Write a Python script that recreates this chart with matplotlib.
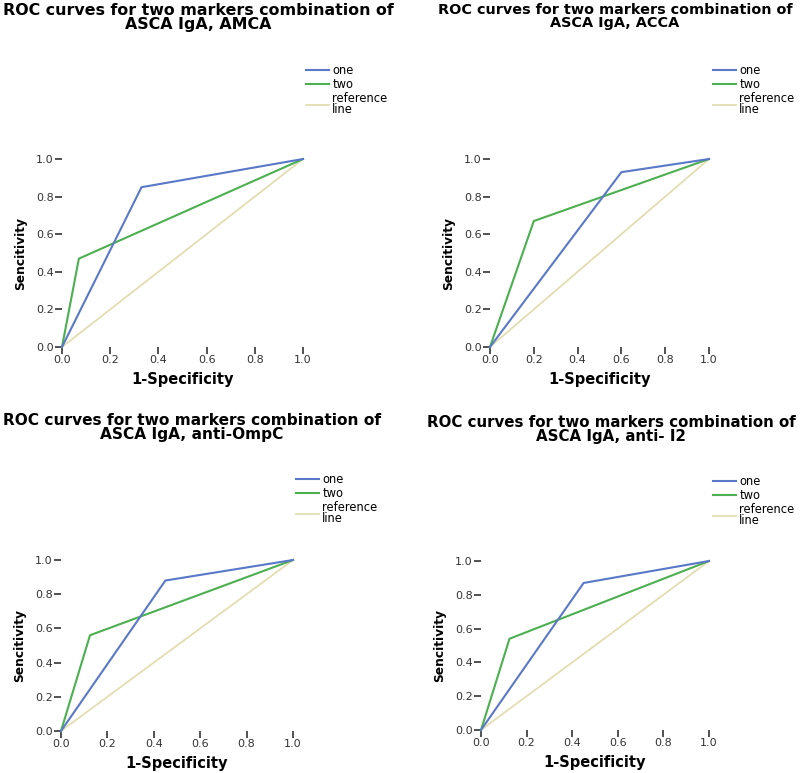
import matplotlib
matplotlib.use("Agg")
import matplotlib.pyplot as plt

# ROC curves, four panels (x = 1-specificity, y = sensitivity)
titles = [
    "ROC curves for two markers combination of\nASCA IgA, AMCA",
    "ROC curves for two markers combination of\nASCA IgA, ACCA",
    "ROC curves for two markers combination of\nASCA IgA, anti-OmpC",
    "ROC curves for two markers combination of\nASCA IgA, anti- I2",
]
one_x = [[0, 0.33, 1], [0, 0.60, 1], [0, 0.45, 1], [0, 0.45, 1]]
one_y = [[0, 0.85, 1], [0, 0.93, 1], [0, 0.88, 1], [0, 0.87, 1]]
two_x = [[0, 0.07, 1], [0, 0.20, 1], [0, 0.125, 1], [0, 0.125, 1]]
two_y = [[0, 0.47, 1], [0, 0.67, 1], [0, 0.56, 1], [0, 0.54, 1]]
ref_x = [0, 1]
ref_y = [0, 1]
ticks = [0.0, 0.2, 0.4, 0.6, 0.8, 1.0]
tick_labels = ["0.0", "0.2", "0.4", "0.6", "0.8", "1.0"]

blue = "#5a78c8"
green = "#4caf50"
beige = "#e3ddb2"

W, H = 800, 773
fig = plt.figure(figsize=(8, 7.73), dpi=100)

# pixel boxes: (x0, x1, ytop(1.0), ybottom(0.0)), title centre/top, legend corner
boxes = [(62, 303, 159, 347), (490, 709, 159, 347), (61, 293, 560, 731), (481, 709, 561, 730)]
title_pos = [(198, 3), (615, 3), (192, 413), (611, 415)]
title_size = [11.4, 10.4, 11.05, 10.85]
legend_pos = [(300, 58), (707, 58), (290, 467), (707, 469)]

for i in range(4):
    x0, x1, yt, yb = boxes[i]
    ax = fig.add_axes([x0 / W, (H - yb) / H, (x1 - x0) / W, (yb - yt) / H])
    ax.plot(ref_x, ref_y, color=beige, lw=1.3, label="reference\nline", clip_on=False)
    ax.plot(two_x[i], two_y[i], color=green, lw=1.5, label="two", clip_on=False)
    ax.plot(one_x[i], one_y[i], color=blue, lw=1.5, label="one", clip_on=False)
    ax.set_xlim(0, 1)
    ax.set_ylim(0, 1)
    for s in ax.spines.values():
        s.set_visible(False)
    ax.set_xticks(ticks)
    ax.set_xticklabels(tick_labels)
    ax.set_yticks(ticks)
    ax.set_yticklabels(tick_labels)
    ax.tick_params(labelsize=8, colors="#333333", length=5, width=1.2, pad=1)
    ax.set_xlabel("1-Specificity", fontsize=10.5, fontweight="bold", labelpad=5)
    ax.set_ylabel("Sencitivity", fontsize=8.8, fontweight="bold", labelpad=6)

    h, l = ax.get_legend_handles_labels()
    lx, ly = legend_pos[i]
    leg = ax.legend(h[::-1], l[::-1], loc="upper left", bbox_to_anchor=(lx / W, 1 - ly / H),
                    bbox_transform=fig.transFigure, frameon=False, fontsize=8.3,
                    handlelength=2.0, handletextpad=0.3, labelspacing=0.1, borderpad=0)
    leg.get_texts()[2].set_linespacing(0.75)

    tx, ty = title_pos[i]
    fig.text(tx / W, 1 - ty / H, titles[i], ha="center", va="top", fontsize=title_size[i],
             fontweight="bold", linespacing=0.9)

fig.savefig("out.png", dpi=100)
